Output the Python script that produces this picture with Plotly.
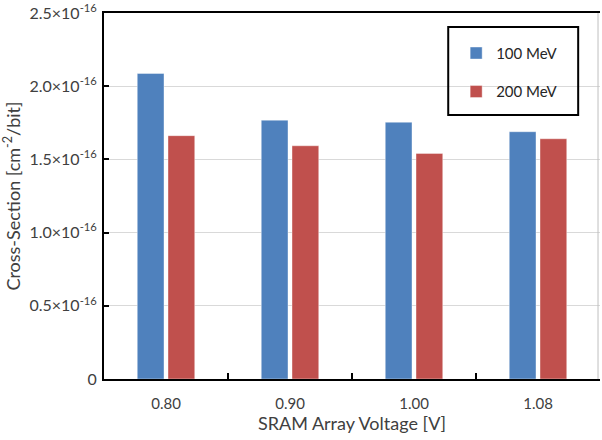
import plotly.graph_objects as go

categories = ["0.80", "0.90", "1.00", "1.08"]
mev100 = [2.087, 1.768, 1.754, 1.689]   # units of 1e-16 cm^2/bit
mev200 = [1.662, 1.593, 1.541, 1.641]
ytick_vals = [0, 0.5, 1.0, 1.5, 2.0, 2.5]
ytick_text = ["0", "0.5×10<sup>-16</sup>", "1.0×10<sup>-16</sup>", "1.5×10<sup>-16</sup>",
              "2.0×10<sup>-16</sup>", "2.5×10<sup>-16</sup>"]

FONT = "Lato, 'Open Sans', sans-serif"

fig = go.Figure()
fig.add_trace(go.Bar(x=categories, y=mev100, name="100 MeV", marker_color="#4F81BD",
                     marker_line=dict(color="rgba(255,255,255,0.4)", width=1), legendgroup="a"))
fig.add_trace(go.Bar(x=categories, y=mev200, name="200 MeV", marker_color="#C0504D",
                     marker_line=dict(color="rgba(255,255,255,0.4)", width=1), legendgroup="b"))

fig.update_layout(
    width=602, height=440,
    margin=dict(l=104, r=2, t=13, b=61),
    paper_bgcolor="white", plot_bgcolor="white",
    font=dict(family=FONT, color="#404040", size=15),
    barmode="group", bargap=0.504, bargroupgap=0.13,
    showlegend=True,
    legend=dict(x=0.71, y=0.935, xanchor="left", yanchor="top",
                font=dict(size=15, color="#262626"), tracegroupgap=16,
                bgcolor="rgba(0,0,0,0)", borderwidth=0),
    xaxis=dict(type="category", showline=True, linecolor="#000000", linewidth=2,
               mirror=True, ticks="inside", tickson="boundaries", ticklen=6,
               tickwidth=2, tickcolor="#000000", showgrid=False, automargin=False,
               tickfont=dict(size=15, color="#404040"), ticklabelstandoff=10,
               title=dict(text="SRAM Array Voltage [V]", font=dict(size=18, color="#404040"),
                          standoff=1)),
    yaxis=dict(range=[0, 2.5], tickmode="array", tickvals=ytick_vals, ticktext=ytick_text,
               showline=True, linecolor="#000000", linewidth=2, automargin=False,
               ticks="inside", ticklen=5, tickwidth=2, tickcolor="#000000",
               showgrid=True, gridcolor="#d9d9d9", gridwidth=1, zeroline=False,
               tickfont=dict(size=16, color="#404040"), ticklabelstandoff=2,
               title=dict(text="Cross-Section [cm<sup>-2</sup>/bit]",
                          font=dict(size=18, color="#404040"), standoff=6)),
)

fig.add_shape(type="rect", xref="paper", yref="paper", x0=0.694, x1=0.956, y0=0.721, y1=0.962,
              line=dict(color="black", width=2), fillcolor="rgba(0,0,0,0)")
fig.add_shape(type="line", xref="paper", yref="paper", x0=0.996, x1=0.996, y0=0, y1=1,
              line=dict(color="#bfbfbf", width=1))

fig.write_html("out.html", post_script="document.body.style.margin='0px';",
               config={"displayModeBar": False})
